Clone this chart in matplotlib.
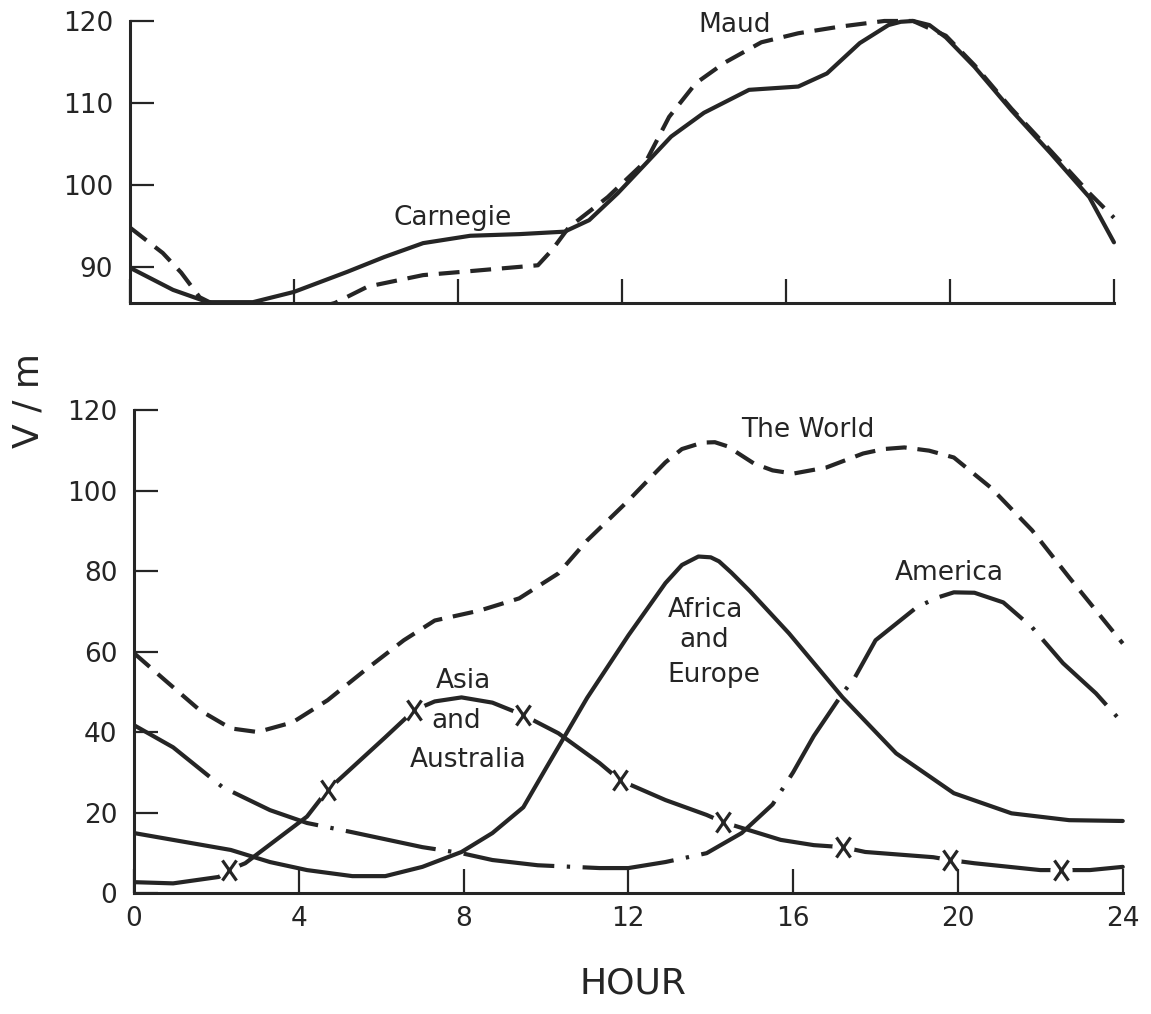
import matplotlib
matplotlib.use("Agg")
from matplotlib import pyplot as plt
from matplotlib.path import Path

INK = "#252525"
LW = 3.0

HOUR_TICKS = [0, 4, 8, 12, 16, 20, 24]

# Upper panel: ocean cruises (V/m)
carnegie_hour = [0, 1.05, 1.9, 3.0, 4.0, 5.3, 6.2, 7.15, 8.3, 9.5, 10.6, 11.2, 11.9,
                 12.6, 13.2, 14.0, 15.1, 16.3, 17.0, 17.8, 18.5, 18.8, 19.1, 19.5, 19.9,
                 20.6, 21.5, 22.45, 23.4, 24.0]
carnegie_vm = [89.9, 87.2, 85.7, 85.7, 86.95, 89.4, 91.2, 92.9, 93.8, 94.0, 94.3, 95.7,
               99.0, 102.7, 105.9, 108.8, 111.6, 112.0, 113.6, 117.3, 119.5, 119.9, 120.0,
               119.5, 118.0, 114.4, 109.1, 103.9, 98.5, 93.0]

maud_hour = [0, 0.8, 1.25, 1.7, 2.3, 3.2, 4.2, 5.0, 5.8, 7.15, 8.1, 9.95, 10.3, 10.7,
             11.65, 12.6, 13.15, 13.8, 14.5, 15.4, 16.3, 17.3, 18.4, 19.1, 19.9, 20.6,
             21.5, 22.45, 23.4, 24.0]
maud_vm = [94.8, 91.7, 89.3, 86.3, 84.8, 84.0, 84.5, 85.6, 87.6, 89.0, 89.4, 90.2, 92.1,
           94.8, 98.5, 103.0, 108.3, 112.4, 114.9, 117.4, 118.5, 119.3, 120.0, 120.0,
           118.2, 114.6, 109.3, 104.2, 99.0, 96.0]

# Lower panel: continents and the world
world_hour = [0, 0.75, 1.6, 2.35, 3.0, 3.85, 4.7, 5.6, 6.55, 7.3, 8.4, 9.35, 10.3, 11.0,
              12.0, 12.5, 12.9, 13.3, 13.8, 14.1, 14.4, 15.05, 15.5, 16.0, 16.8, 17.7,
              18.2, 18.7, 19.3, 19.9, 20.8, 21.8, 22.7, 24.0]
world_vm = [59.6, 52.9, 45.4, 40.9, 40.0, 42.4, 47.9, 55.3, 62.8, 67.7, 70.2, 73.2, 79.4,
            87.6, 97.5, 102.8, 107.0, 110.3, 111.9, 112.0, 111.0, 106.7, 105.0, 104.2,
            105.7, 109.2, 110.3, 110.7, 109.9, 108.2, 100.7, 90.1, 78.4, 62.0]

africa_hour = [0, 0.95, 2.35, 3.3, 4.2, 5.3, 6.1, 7.0, 7.95, 8.7, 9.45, 10.0, 11.0, 12.0,
               12.9, 13.3, 13.7, 14.0, 14.2, 14.5, 14.95, 15.9, 17.2, 18.5, 19.9, 21.3,
               22.7, 24.0]
africa_vm = [14.9, 13.2, 10.7, 7.7, 5.7, 4.2, 4.2, 6.5, 10.2, 14.9, 21.3, 31.0, 48.5,
             64.0, 77.0, 81.5, 83.6, 83.4, 82.4, 79.6, 75.0, 64.5, 48.6, 34.7, 24.8,
             19.8, 18.1, 17.9]

america_hour = [0, 0.95, 2.15, 3.3, 4.2, 5.3, 7.0, 7.95, 8.7, 9.8, 11.3, 12.0, 12.9, 13.9,
                14.75, 15.5, 16.0, 16.5, 17.2, 17.5, 18.0, 19.0, 19.5, 19.9, 20.4, 21.1,
                21.8, 22.55, 23.35, 24.0]
america_vm = [41.7, 36.2, 26.3, 20.6, 17.4, 15.1, 11.4, 9.9, 8.2, 6.9, 6.2, 6.2, 7.7, 9.9,
              14.9, 22.0, 30.0, 39.0, 49.6, 53.6, 62.8, 71.0, 73.4, 74.7, 74.6, 72.2,
              66.0, 57.1, 49.6, 42.2]

asia_hour = [0, 0.95, 2.06, 2.3, 2.7, 4.2, 4.7, 5.15, 6.1, 6.8, 7.3, 7.95, 8.7, 9.45,
             10.3, 11.3, 11.8, 12.9, 13.9, 14.3, 15.7, 16.5, 17.2, 17.75, 19.4, 19.8,
             20.4, 22.0, 22.5, 23.2, 24.0]
asia_vm = [2.7, 2.4, 4.0, 5.7, 7.4, 19.0, 25.6, 29.8, 38.7, 45.4, 47.6, 48.6, 47.3, 44.2,
           39.7, 32.3, 28.0, 23.1, 19.4, 17.6, 13.2, 11.9, 11.4, 10.2, 8.9, 8.2, 7.4,
           5.7, 5.7, 5.7, 6.5]
# hours at which the curve carries an X
asia_mark_hour = [2.3, 4.7, 6.8, 9.45, 11.8, 14.3, 17.2, 19.8, 22.5]

x_marker = Path([(-0.7, -1), (0.7, 1), (-0.7, 1), (0.7, -1)],
                [Path.MOVETO, Path.LINETO, Path.MOVETO, Path.LINETO])

plt.rcParams["font.family"] = "DejaVu Sans"
fig = plt.figure(figsize=(11.51, 10.14), dpi=100)
ax_top = fig.add_axes([0.1129, 0.7012, 0.8656, 0.2862])
ax_bot = fig.add_axes([0.1164, 0.1193, 0.8698, 0.4843])

for ax in (ax_top, ax_bot):
    for side in ("top", "right"):
        ax.spines[side].set_visible(False)
    for side in ("left", "bottom"):
        ax.spines[side].set_linewidth(2.2)
        ax.spines[side].set_color(INK)
    ax.spines["bottom"].set_bounds(0, 24)
    ax.set_xlim(0, 24.3)
    ax.set_xticks(HOUR_TICKS)
    ax.tick_params(direction="in", length=17, width=1.6, color=INK,
                   labelsize=19, labelcolor=INK)
    ax.tick_params(axis="y", pad=12)
    ax.tick_params(axis="x", pad=9)

# upper panel
ax_top.plot(carnegie_hour, carnegie_vm, "-", color=INK, lw=LW, solid_capstyle="round")
ax_top.plot(maud_hour, maud_vm, color=INK, lw=LW, linestyle=(0, (5, 2.6)))
ax_top.set_ylim(85.6, 121)
ax_top.spines["left"].set_bounds(85.6, 120)
ax_top.set_yticks([90, 100, 110, 120])
ax_top.tick_params(axis="x", labelbottom=False)
ax_top.text(7.88, 95.1, "Carnegie", ha="center", va="baseline", fontsize=19, color=INK)
ax_top.text(14.76, 118.66, "Maud", ha="center", va="baseline", fontsize=19, color=INK)

# lower panel
ax_bot.plot(world_hour, world_vm, color=INK, lw=LW, linestyle=(0, (5, 2.6)))
ax_bot.plot(africa_hour, africa_vm, "-", color=INK, lw=LW, solid_capstyle="round")
ax_bot.plot(america_hour, america_vm, color=INK, lw=LW, linestyle=(0, (22, 3, 0.8, 3)))
ax_bot.plot(asia_hour, asia_vm, "-", color=INK, lw=LW, solid_capstyle="round")
mark_idx = [asia_hour.index(h) for h in asia_mark_hour]
mark_vm = [asia_vm[i] for i in mark_idx]
ax_bot.plot(asia_mark_hour, mark_vm, "o", ms=16, color="white", mec="none", zorder=4)
ax_bot.plot(asia_mark_hour, mark_vm, marker=x_marker, ls="none", ms=14.5, mew=2.3,
            color=INK, zorder=5)
ax_bot.set_ylim(0, 122)
ax_bot.spines["left"].set_bounds(0, 120)
ax_bot.set_yticks([0, 20, 40, 60, 80, 100, 120])

ax_bot.text(16.36, 113.2, "The World", ha="center", va="baseline", fontsize=19, color=INK)
ax_bot.text(19.8, 77.7, "America", ha="center", va="baseline", fontsize=19, color=INK)
ax_bot.text(13.88, 68.5, "Africa", ha="center", va="baseline", fontsize=19, color=INK)
ax_bot.text(13.83, 61.0, "and", ha="center", va="baseline", fontsize=19, color=INK)
ax_bot.text(14.08, 52.4, "Europe", ha="center", va="baseline", fontsize=19, color=INK)
ax_bot.text(7.99, 50.9, "Asia", ha="center", va="baseline", fontsize=19, color=INK)
ax_bot.text(7.82, 40.9, "and", ha="center", va="baseline", fontsize=19, color=INK)
ax_bot.text(8.1, 31.3, "Australia", ha="center", va="baseline", fontsize=19, color=INK)

fig.text(28 / 1151, 1 - 400 / 1014, "V / m", rotation=90, ha="center", va="center",
         fontsize=26, color=INK)
fig.text(633 / 1151, 1 - 983 / 1014, "HOUR", ha="center", va="center",
         fontsize=26, color=INK)

fig.savefig("out.png", dpi=100, facecolor="white")
